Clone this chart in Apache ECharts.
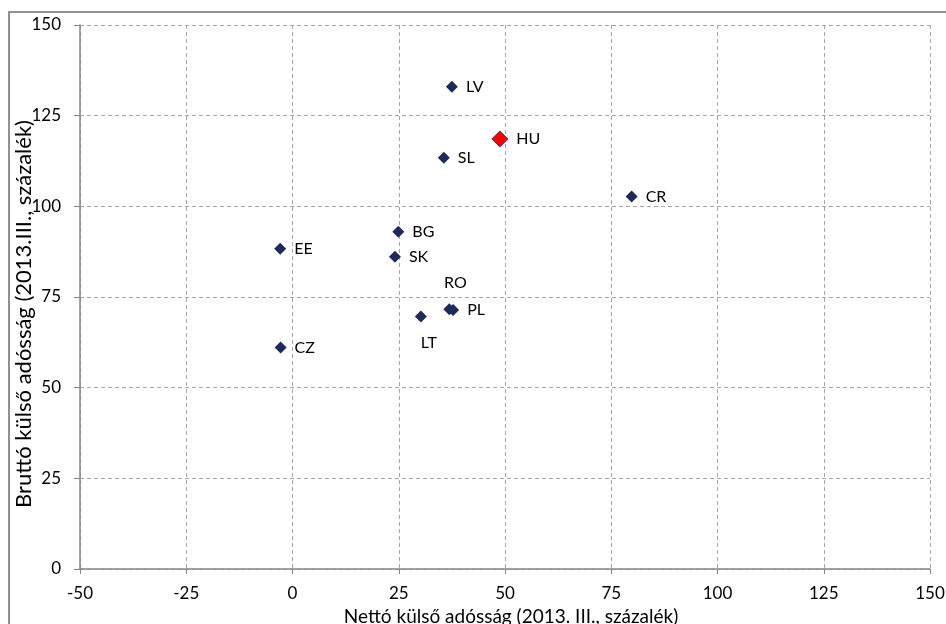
<!DOCTYPE html>
<html>
<head>
<meta charset="utf-8">
<script src="https://cdn.jsdelivr.net/npm/echarts@6/dist/echarts.min.js"></script>
<style>
  html, body { margin: 0; padding: 0; background: #fff; }
  #chart { width: 946px; height: 624px; }
</style>
</head>
<body>
<div id="chart"></div>
<script>
// adatok
const countries = ["LV", "HU", "SL", "CR", "BG", "EE", "SK", "RO", "PL", "LT", "CZ"]
const netDebt = [37.5, 48.8, 35.6, 79.8, 24.9, -2.9, 24.1, 36.9, 37.8, 30.2, -2.8]
const grossDebt = [133.0, 118.6, 113.4, 102.7, 93.0, 88.3, 86.1, 71.6, 71.4, 69.6, 61.1]

const xTitle = "Nettó külső adósság (2013. III., százalék)"
const yTitle = "Bruttó külső adósság (2013.III., százalék)"

const font = "Lato, 'Noto Sans', sans-serif"
const navy = "#1f2a5c"

// címke pozíciók
const labelPos = {
  RO: { position: "top", offset: [6, -4] },
  LT: { position: "bottom", offset: [8, 4] },
}

const points = countries.map((name, i) => {
  const item = {
    name: name,
    value: [netDebt[i], grossDebt[i]],
    label: Object.assign({ position: "right", distance: 8 }, labelPos[name] || {}),
  }
  if (name === "HU") {
    item.symbolSize = 16
    item.itemStyle = { color: "#ff0000", borderColor: navy, borderWidth: 0.8, opacity: 1 }
  }
  return item
})

const chart = echarts.init(document.getElementById("chart"))
chart.setOption({
  animation: false,
  textStyle: { fontFamily: font },
  graphic: [
    {
      type: "rect",
      shape: { x: 9, y: 12, width: 960, height: 640 },
      style: { fill: "none", stroke: "#6e6e6e", lineWidth: 1.5 },
      silent: true,
    },
    {
      // függőleges tengelycím
      type: "text",
      x: 24,
      y: 314,
      rotation: Math.PI / 2,
      style: {
        text: yTitle,
        fill: "#000",
        font: "22px " + font,
        align: "center",
        verticalAlign: "middle",
      },
      silent: true,
    },
  ],
  grid: { left: 80, right: 16, top: 25, bottom: 55, outerBoundsMode: "none" },
  xAxis: {
    type: "value",
    min: -50,
    max: 150,
    interval: 25,
    name: xTitle,
    nameLocation: "middle",
    nameGap: 38,
    nameTextStyle: { color: "#000", fontSize: 19, fontFamily: font, padding: [0, 0, 0, 12] },
    axisLine: { onZero: false, lineStyle: { color: "#868686", width: 1.5 } },
    axisTick: { show: true, length: 5, lineStyle: { color: "#868686" } },
    axisLabel: { color: "#000", fontSize: 17, margin: 16, fontFamily: font },
    splitLine: { show: true, lineStyle: { color: "#a6a6a6", type: [4, 3] } },
  },
  yAxis: {
    type: "value",
    min: 0,
    max: 150,
    interval: 25,
    axisLine: { show: true, onZero: false, lineStyle: { color: "#868686", width: 1.5 } },
    axisTick: { show: true, length: 6, lineStyle: { color: "#868686" } },
    axisLabel: { color: "#000", fontSize: 17, margin: 19, fontFamily: font },
    splitLine: { show: true, lineStyle: { color: "#a6a6a6", type: [4, 3] } },
  },
  series: [
    {
      type: "scatter",
      symbol: "diamond",
      symbolSize: 12,
      itemStyle: { color: navy, opacity: 1 },
      label: {
        show: true,
        formatter: "{b}",
        color: "#000",
        fontSize: 16,
        fontFamily: font,
      },
      data: points,
    },
  ],
})
</script>
</body>
</html>
